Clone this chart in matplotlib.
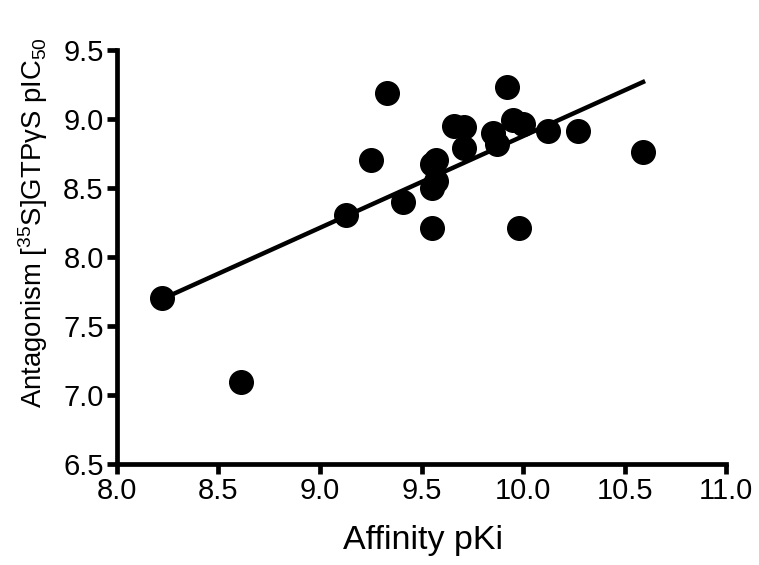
import matplotlib
matplotlib.use("Agg")
import matplotlib.pyplot as plt
import numpy as np

plt.rcParams["font.family"] = ["Liberation Sans", "DejaVu Sans"]
plt.rcParams["mathtext.default"] = "regular"

# affinity pKi vs antagonism pIC50
pki = [8.22, 8.61, 9.13, 9.25, 9.33, 9.41, 9.55, 9.55, 9.57, 9.55, 9.57,
       9.66, 9.71, 9.71, 9.85, 9.87, 9.92, 9.95, 10.00, 9.98, 10.12, 10.27, 10.59]
pic50 = [7.70, 7.09, 8.30, 8.70, 9.19, 8.40, 8.21, 8.67, 8.70, 8.50, 8.55,
         8.95, 8.94, 8.79, 8.90, 8.82, 9.23, 8.99, 8.96, 8.21, 8.91, 8.91, 8.76]

x = np.array(pki)
y = np.array(pic50)
slope, intercept = np.polyfit(x, y, 1)
xfit = np.array([x.min(), x.max()])

fig = plt.figure(figsize=(7.59, 5.65), dpi=100)
ax = fig.add_axes([0.154, 0.179, 0.803, 0.733])

ax.plot(xfit, slope * xfit + intercept, color="black", linewidth=3.2, zorder=2)
ax.plot(x, y, "o", color="black", markersize=17, zorder=3)

ax.set_xlim(8.0, 11.0)
ax.set_ylim(6.5, 9.5)
ax.set_xticks(np.arange(8.0, 11.01, 0.5))
ax.set_yticks(np.arange(6.5, 9.51, 0.5))
ax.xaxis.set_major_formatter(matplotlib.ticker.FormatStrFormatter("%.1f"))
ax.yaxis.set_major_formatter(matplotlib.ticker.FormatStrFormatter("%.1f"))

for side in ["top", "right"]:
    ax.spines[side].set_visible(False)
for side in ["left", "bottom"]:
    ax.spines[side].set_linewidth(3.4)
ax.tick_params(width=3.4, length=7.5, labelsize=21, pad=2)

ax.set_xlabel("Affinity pKi", fontsize=24.5)
ax.set_ylabel("Antagonism [$^{35}$S]GTPγS pIC$_{50}$", fontsize=19.8)
ax.xaxis.label.set_va("center")
ax.yaxis.label.set_va("center")
ax.xaxis.set_label_coords(0.502, -0.184)
ax.yaxis.set_label_coords(-0.138, 0.582)

fig.savefig("out.png", dpi=100)
